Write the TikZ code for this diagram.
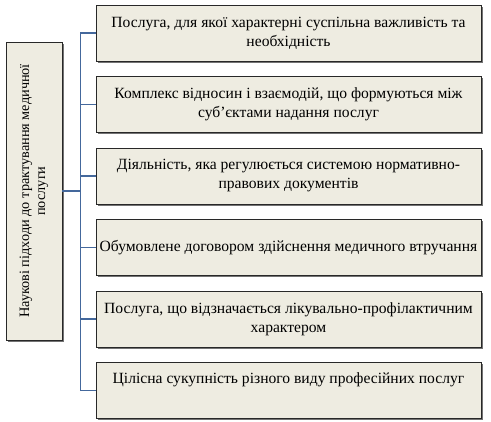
\documentclass[tikz,border=0pt]{standalone}
\usepackage{fontspec}
\setmainfont{Liberation Serif}
\usetikzlibrary{positioning, shadows, calc}
\definecolor{paper}{RGB}{238, 236, 225}
\definecolor{frame}{RGB}{40, 40, 40}
\definecolor{linkblue}{RGB}{68, 104, 156}

\begin{document}
\begin{tikzpicture}[
            item/.style={draw=frame, line width=0.9pt, fill=paper, minimum width=385pt, minimum height=56pt, inner sep=2pt, align=center, font=\fontsize{15.6}{19}\selectfont, drop shadow={shadow xshift=2pt, shadow yshift=-2pt, fill=black, opacity=0.55}},
            sidebox/.style={draw=frame, line width=0.9pt, fill=paper, minimum width=298pt, minimum height=56pt, inner sep=2pt, align=center, rotate=90, font=\fontsize{14.3}{16}\selectfont, drop shadow={shadow xshift=2pt, shadow yshift=-2pt, fill=black, opacity=0.55}},
            branch/.style={linkblue, line width=1.6pt},
            stem/.style={linkblue, line width=2.6pt}
        ]
            \useasboundingbox (0pt,0pt) rectangle (491pt,-422pt);

            \node[item] (first) at (288.5pt,-33pt) {Послуга, для якої характерні суспільна важливість та\\необхідність};
            \node[item, below=14.6pt of first] (second) {Комплекс відносин і взаємодій, що формуються між\\суб’єктами надання послуг};
            \node[item, below=14.6pt of second] (third) {Діяльність, яка регулюється системою нормативно-\\правових документів};
            \node[item, below=14.6pt of third] (fourth) {Обумовлене договором здійснення медичного втручання};
            \node[item, below=14.6pt of fourth] (fifth) {Послуга, що відзначається лікувально-профілактичним\\характером};
            \node[item, below=14.6pt of fifth] (sixth) {Цілісна сукупність різного виду професійних послуг\\\strut};

            \node[sidebox] (approach) at (34pt,-191pt) {Наукові підходи до трактування медичної\\послуги};

            % trunk between the side box and the list
            \coordinate (trunk) at ($(approach.south)+(18pt,0)$);
            \draw[stem] (approach.south) -- (trunk);
            \draw[branch] (trunk |- first.west) -- (trunk |- sixth.west);
            \draw[branch] (trunk |- first.west) -- (first.west);
            \draw[branch] (trunk |- second.west) -- (second.west);
            \draw[branch] (trunk |- third.west) -- (third.west);
            \draw[branch] (trunk |- fourth.west) -- (fourth.west);
            \draw[branch] (trunk |- fifth.west) -- (fifth.west);
            \draw[branch] (trunk |- sixth.west) -- (sixth.west);
        \end{tikzpicture}
\end{document}
